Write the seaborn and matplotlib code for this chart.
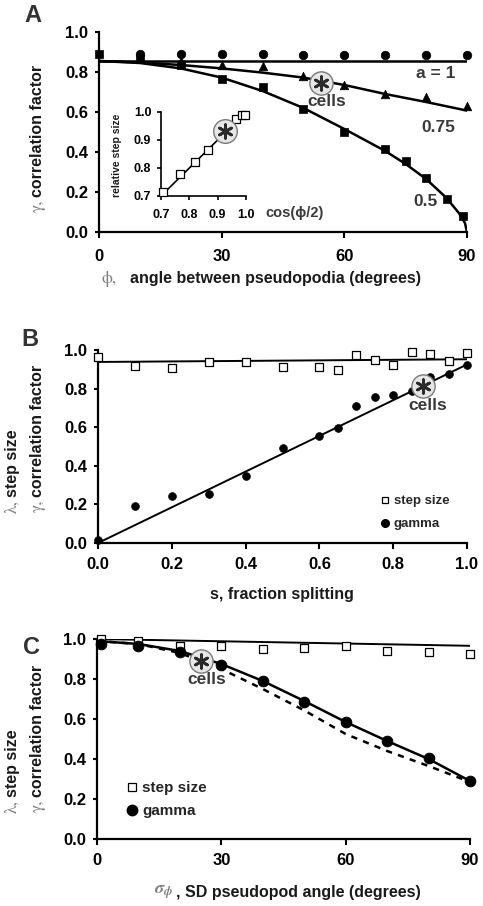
import numpy as np
import pandas as pd
import matplotlib
matplotlib.use("Agg")
import matplotlib.pyplot as plt
import seaborn as sns
from matplotlib.lines import Line2D

# ---------------- Panel A data ----------------
phi_a1 = [10, 20, 30, 40, 50, 60, 70, 80, 90]
gamma_a1 = [0.89, 0.89, 0.89, 0.89, 0.885, 0.885, 0.885, 0.885, 0.885]
phi_a075 = [10, 20, 30, 40, 50, 60, 70, 80, 90]
gamma_a075 = [0.87, 0.853, 0.835, 0.828, 0.778, 0.736, 0.69, 0.674, 0.632]
phi_a05 = [0, 10, 20, 30, 40, 50, 60, 70, 75, 80, 85, 89]
gamma_a05 = [0.89, 0.87, 0.833, 0.764, 0.724, 0.615, 0.502, 0.415, 0.356, 0.268, 0.167, 0.079]
fit_phi_a1 = [0, 90]
fit_a1 = [0.853, 0.853]
fit_phi_a075 = [0, 10, 20, 30, 40, 50, 60, 70, 80, 90]
fit_a075 = [0.855, 0.848, 0.835, 0.818, 0.797, 0.772, 0.735, 0.69, 0.65, 0.607]
fit_phi_a05 = [0, 10, 20, 30, 40, 50, 60, 70, 75, 80, 85, 88, 89.5, 90]
fit_a05 = [0.855, 0.845, 0.818, 0.772, 0.705, 0.62, 0.515, 0.405, 0.34, 0.265, 0.17, 0.095, 0.045, 0.0]
cells_A_x = [54.3]
cells_A_y = [0.744]
curve_labels_A = ["a = 1", "0.75", "0.5"]

# inset
cos_half = [0.707, 0.766, 0.819, 0.866, 0.966, 0.985, 0.996]
rel_step = [0.714, 0.78, 0.82, 0.865, 0.975, 0.99, 0.99]
fit_cos = [0.70, 0.965]
fit_rel = [0.70, 0.965]
cells_in_x = [0.926]
cells_in_y = [0.933]

# ---------------- Panel B data ----------------
s_frac = [0.0, 0.1, 0.2, 0.3, 0.4, 0.5, 0.6, 0.65, 0.7, 0.75, 0.8, 0.85, 0.9, 0.95, 1.0]
step_B = [0.962, 0.917, 0.907, 0.938, 0.938, 0.913, 0.913, 0.896, 0.976, 0.95, 0.924, 0.99, 0.978, 0.945, 0.986]
gamma_B = [0.017, 0.19, 0.244, 0.256, 0.346, 0.493, 0.553, 0.598, 0.708, 0.757, 0.765, 0.79, 0.862, 0.875, 0.92]
fit_s = [0.0, 1.0]
fit_step_B = [0.938, 0.952]
fit_gamma_B = [0.0, 0.925]
cells_B_x = [0.88]
cells_B_y = [0.813]

# ---------------- Panel C data ----------------
sd_phi = [1, 10, 20, 30, 40, 50, 60, 70, 80, 90]
step_C = [1.0, 0.992, 0.965, 0.965, 0.948, 0.953, 0.965, 0.942, 0.937, 0.923]
gamma_C = [0.973, 0.967, 0.934, 0.87, 0.789, 0.686, 0.584, 0.491, 0.403, 0.291]
fit_sd = [0, 90]
fit_step_C = [1.0, 0.966]
fit_sd_g = [0, 10, 20, 30, 40, 50, 60, 70, 80, 90]
fit_gamma_C = [0.99, 0.975, 0.94, 0.875, 0.79, 0.69, 0.585, 0.49, 0.40, 0.29]
fit_gamma_C_dash = [0.99, 0.975, 0.93, 0.85, 0.75, 0.643, 0.525, 0.44, 0.365, 0.285]
cells_C_x = [25.2]
cells_C_y = [0.89]

legend_labels = ["step size", "gamma"]

# ---------------- style ----------------
sns.set_theme(style="ticks")
plt.rcParams["font.family"] = ["Liberation Sans", "DejaVu Sans"]
plt.rcParams["font.weight"] = "bold"
plt.rcParams["mathtext.fontset"] = "stix"

W, H = 483, 906
fig = plt.figure(figsize=(W / 100, H / 100), dpi=100)
fig.patch.set_facecolor("white")

TXT = "#1a1a1a"
GREY = "#808080"
LBL = "#3a3a3a"


def rect(l, t, r, b):
    return [l / W, 1 - b / H, (r - l) / W, (b - t) / H]


def fp(x, y):
    return x / W, 1 - y / H


def style_axes(ax, xpad, lsize=12):
    sns.despine(ax=ax)
    for s in ("left", "bottom"):
        ax.spines[s].set_linewidth(1.6)
        ax.spines[s].set_color("black")
    ax.set_facecolor("none")
    ax.tick_params(axis="y", direction="out", length=3, width=1.5, pad=5,
                   labelsize=lsize, colors="black")
    ax.tick_params(axis="x", direction="out", length=4, width=1.5, pad=xpad,
                   labelsize=lsize, colors="black")
    for lab in ax.get_xticklabels() + ax.get_yticklabels():
        lab.set_fontweight("bold")
    ax.set_xlabel("")
    ax.set_ylabel("")


def cells_marker(ax, x, y, size=280):
    sns.scatterplot(x=x, y=y, ax=ax, s=size, color="#e6e6e6", edgecolor="#7a7a7a",
                    linewidth=1.0, zorder=6, clip_on=False, legend=False)
    sns.scatterplot(x=x, y=y, ax=ax, marker=(6, 2, 0), s=95, color="#2a2a2a",
                    linewidth=2.0, zorder=7, clip_on=False, legend=False)


def ylabel2(x, yend, greek, text, size=11.5):
    fig.text(*fp(x, yend), text, rotation=90, rotation_mode="anchor", ha="left",
             va="center", fontsize=size, fontweight="bold", color=TXT)
    fig.text(*fp(x, yend + 3), greek, rotation=90, rotation_mode="anchor", ha="right",
             va="center", fontsize=size + 1, family="STIXGeneral", fontweight="normal",
             color=GREY)


# ================= Panel A =================
axA = fig.add_axes(rect(99, 32, 467, 232))
sns.lineplot(x=fit_phi_a1, y=fit_a1, ax=axA, color="black", lw=1.8, sort=False, estimator=None)
sns.lineplot(x=fit_phi_a075, y=fit_a075, ax=axA, color="black", lw=1.8, sort=False, estimator=None)
sns.lineplot(x=fit_phi_a05, y=fit_a05, ax=axA, color="black", lw=1.8, sort=False, estimator=None)
sns.scatterplot(x=phi_a1, y=gamma_a1, ax=axA, marker="o", s=38, color="black",
                edgecolor="black", clip_on=False, zorder=5, legend=False)
sns.scatterplot(x=phi_a075, y=gamma_a075, ax=axA, marker="^", s=38, color="black",
                edgecolor="black", clip_on=False, zorder=5, legend=False)
sns.scatterplot(x=phi_a05, y=gamma_a05, ax=axA, marker="s", s=38, color="black",
                edgecolor="black", clip_on=False, zorder=5, legend=False)
axA.set_xlim(0, 90)
axA.set_ylim(0, 1.0)
axA.set_xticks([0, 30, 60, 90])
axA.set_yticks(np.arange(0, 1.01, 0.2))
axA.set_yticklabels([f"{v:.1f}" for v in np.arange(0, 1.01, 0.2)])
style_axes(axA, xpad=8)
cells_marker(axA, cells_A_x, cells_A_y)
axA.text(55.8, 0.655, "cells", ha="center", va="center", fontsize=12.5, fontweight="bold", color=LBL)
axA.text(87.1, 0.795, curve_labels_A[0], ha="right", va="center", fontsize=12.5, fontweight="bold", color=LBL)
axA.text(87.1, 0.52, curve_labels_A[1], ha="right", va="center", fontsize=12.5, fontweight="bold", color=LBL)
axA.text(82.7, 0.15, curve_labels_A[2], ha="right", va="center", fontsize=12.5, fontweight="bold", color=LBL)

# inset
axI = fig.add_axes(rect(161, 112, 246, 196))
sns.lineplot(x=fit_cos, y=fit_rel, ax=axI, color="black", lw=1.2, sort=False, estimator=None)
sns.scatterplot(x=cos_half, y=rel_step, ax=axI, marker="s", s=32, color="white",
                edgecolor="black", linewidth=0.9, clip_on=False, zorder=5, legend=False)
axI.set_xlim(0.7, 1.0)
axI.set_ylim(0.7, 1.0)
axI.set_xticks([0.7, 0.8, 0.9, 1.0])
axI.set_yticks([0.7, 0.8, 0.9, 1.0])
axI.set_xticklabels(["0.7", "0.8", "0.9", "1.0"])
axI.set_yticklabels(["0.7", "0.8", "0.9", "1.0"])
sns.despine(ax=axI)
for s in ("left", "bottom"):
    axI.spines[s].set_linewidth(1.2)
    axI.spines[s].set_color("black")
axI.set_facecolor("none")
axI.tick_params(axis="both", direction="out", length=3, width=1.2, labelsize=9, colors="black")
axI.tick_params(axis="x", pad=6)
axI.tick_params(axis="y", pad=4)
for lab in axI.get_xticklabels() + axI.get_yticklabels():
    lab.set_fontweight("bold")
axI.set_xlabel("")
axI.set_ylabel("")
cells_marker(axI, cells_in_x, cells_in_y, size=290)
fig.text(*fp(117, 155), "relative step size", rotation=90, ha="center", va="center",
         fontsize=7.5, fontweight="bold", color=TXT)
fig.text(*fp(265, 213), "cos(ϕ/2)", ha="left", va="center", fontsize=10.5,
         fontweight="bold", color=LBL)

fig.text(*fp(33, 15), "A", ha="center", va="center", fontsize=17, fontweight="bold", color="#333333")
ylabel2(38, 197, "γ,", "correlation factor")
fig.text(*fp(117, 279), "ϕ,", ha="right", va="center", fontsize=12.5, family="STIXGeneral",
         fontweight="normal", color=GREY)
fig.text(*fp(130, 279), "angle between pseudopodia (degrees)", ha="left", va="center",
         fontsize=11.5, fontweight="bold", color=TXT)

# ================= Panel B =================
axB = fig.add_axes(rect(98, 350, 467, 543))
sns.lineplot(x=fit_s, y=fit_step_B, ax=axB, color="black", lw=1.4, sort=False, estimator=None)
sns.lineplot(x=fit_s, y=fit_gamma_B, ax=axB, color="black", lw=1.4, sort=False, estimator=None)
sns.scatterplot(x=s_frac, y=step_B, ax=axB, marker="s", s=32, color="white",
                edgecolor="black", linewidth=0.9, clip_on=False, zorder=5, legend=False)
sns.scatterplot(x=s_frac, y=gamma_B, ax=axB, marker="o", s=32, color="black",
                edgecolor="black", clip_on=False, zorder=5, legend=False)
axB.set_xlim(0, 1.0)
axB.set_ylim(0, 1.0)
axB.set_xticks(np.arange(0, 1.01, 0.2))
axB.set_xticklabels([f"{v:.1f}" for v in np.arange(0, 1.01, 0.2)])
axB.set_yticks(np.arange(0, 1.01, 0.2))
axB.set_yticklabels([f"{v:.1f}" for v in np.arange(0, 1.01, 0.2)])
style_axes(axB, xpad=6)
cells_marker(axB, cells_B_x, cells_B_y)
axB.text(0.894, 0.715, "cells", ha="center", va="center", fontsize=12.5, fontweight="bold", color=LBL)
hB = [Line2D([], [], ls="none", marker="s", ms=5, mfc="white", mec="black", mew=0.9),
      Line2D([], [], ls="none", marker="o", ms=5.5, mfc="black", mec="black")]
axB.legend(hB, legend_labels, loc="upper left", bbox_to_anchor=(0.764, 0.248), frameon=False,
           handlelength=0.8, handletextpad=0.25, labelspacing=0.8, borderpad=0,
           borderaxespad=0, prop=dict(weight="bold", size=9.5))
fig.text(*fp(30, 340), "B", ha="center", va="center", fontsize=17, fontweight="bold", color="#333333")
ylabel2(12, 497, "λ,", "step size")
ylabel2(38, 497, "γ,", "correlation factor")
fig.text(*fp(282, 594), "s, fraction splitting", ha="center", va="center",
         fontsize=11.5, fontweight="bold", color=TXT)

# ================= Panel C =================
axC = fig.add_axes(rect(97, 639, 470, 839))
sns.lineplot(x=fit_sd, y=fit_step_C, ax=axC, color="black", lw=1.4, sort=False, estimator=None)
sns.lineplot(x=fit_sd_g, y=fit_gamma_C, ax=axC, color="black", lw=1.8, sort=False, estimator=None)
sns.lineplot(x=fit_sd_g, y=fit_gamma_C_dash, ax=axC, color="black", lw=1.8, sort=False,
             estimator=None, linestyle=(0, (2.5, 2.5)))
sns.scatterplot(x=sd_phi, y=step_C, ax=axC, marker="s", s=34, color="white",
                edgecolor="black", linewidth=0.9, clip_on=False, zorder=5, legend=False)
sns.scatterplot(x=sd_phi, y=gamma_C, ax=axC, marker="o", s=60, color="black",
                edgecolor="black", clip_on=False, zorder=5, legend=False)
axC.set_xlim(0, 90)
axC.set_ylim(0, 1.0)
axC.set_xticks([0, 30, 60, 90])
axC.set_yticks(np.arange(0, 1.01, 0.2))
axC.set_yticklabels([f"{v:.1f}" for v in np.arange(0, 1.01, 0.2)])
style_axes(axC, xpad=6)
cells_marker(axC, cells_C_x, cells_C_y)
axC.text(26.5, 0.80, "cells", ha="center", va="center", fontsize=12.5, fontweight="bold", color=LBL)
hC = [Line2D([], [], ls="none", marker="s", ms=5.5, mfc="white", mec="black", mew=0.9),
      Line2D([], [], ls="none", marker="o", ms=7.5, mfc="black", mec="black")]
axC.legend(hC, legend_labels, loc="upper left", bbox_to_anchor=(0.08, 0.29), frameon=False,
           handlelength=0.7, handletextpad=0.3, labelspacing=0.6, borderpad=0,
           borderaxespad=0, prop=dict(weight="bold", size=11))
fig.text(*fp(32, 648), "C", ha="center", va="center", fontsize=17, fontweight="bold", color="#333333")
ylabel2(12, 797, "λ,", "step size")
ylabel2(38, 797, "γ,", "correlation factor")
fig.text(*fp(173, 892), r"$\sigma_{\phi}$", ha="right", va="center", fontsize=13,
         fontweight="normal", color=GREY)
fig.text(*fp(176, 892), ", SD pseudopod angle (degrees)", ha="left", va="center",
         fontsize=11.5, fontweight="bold", color=TXT)

fig.savefig("out.png", dpi=100, facecolor="white")
